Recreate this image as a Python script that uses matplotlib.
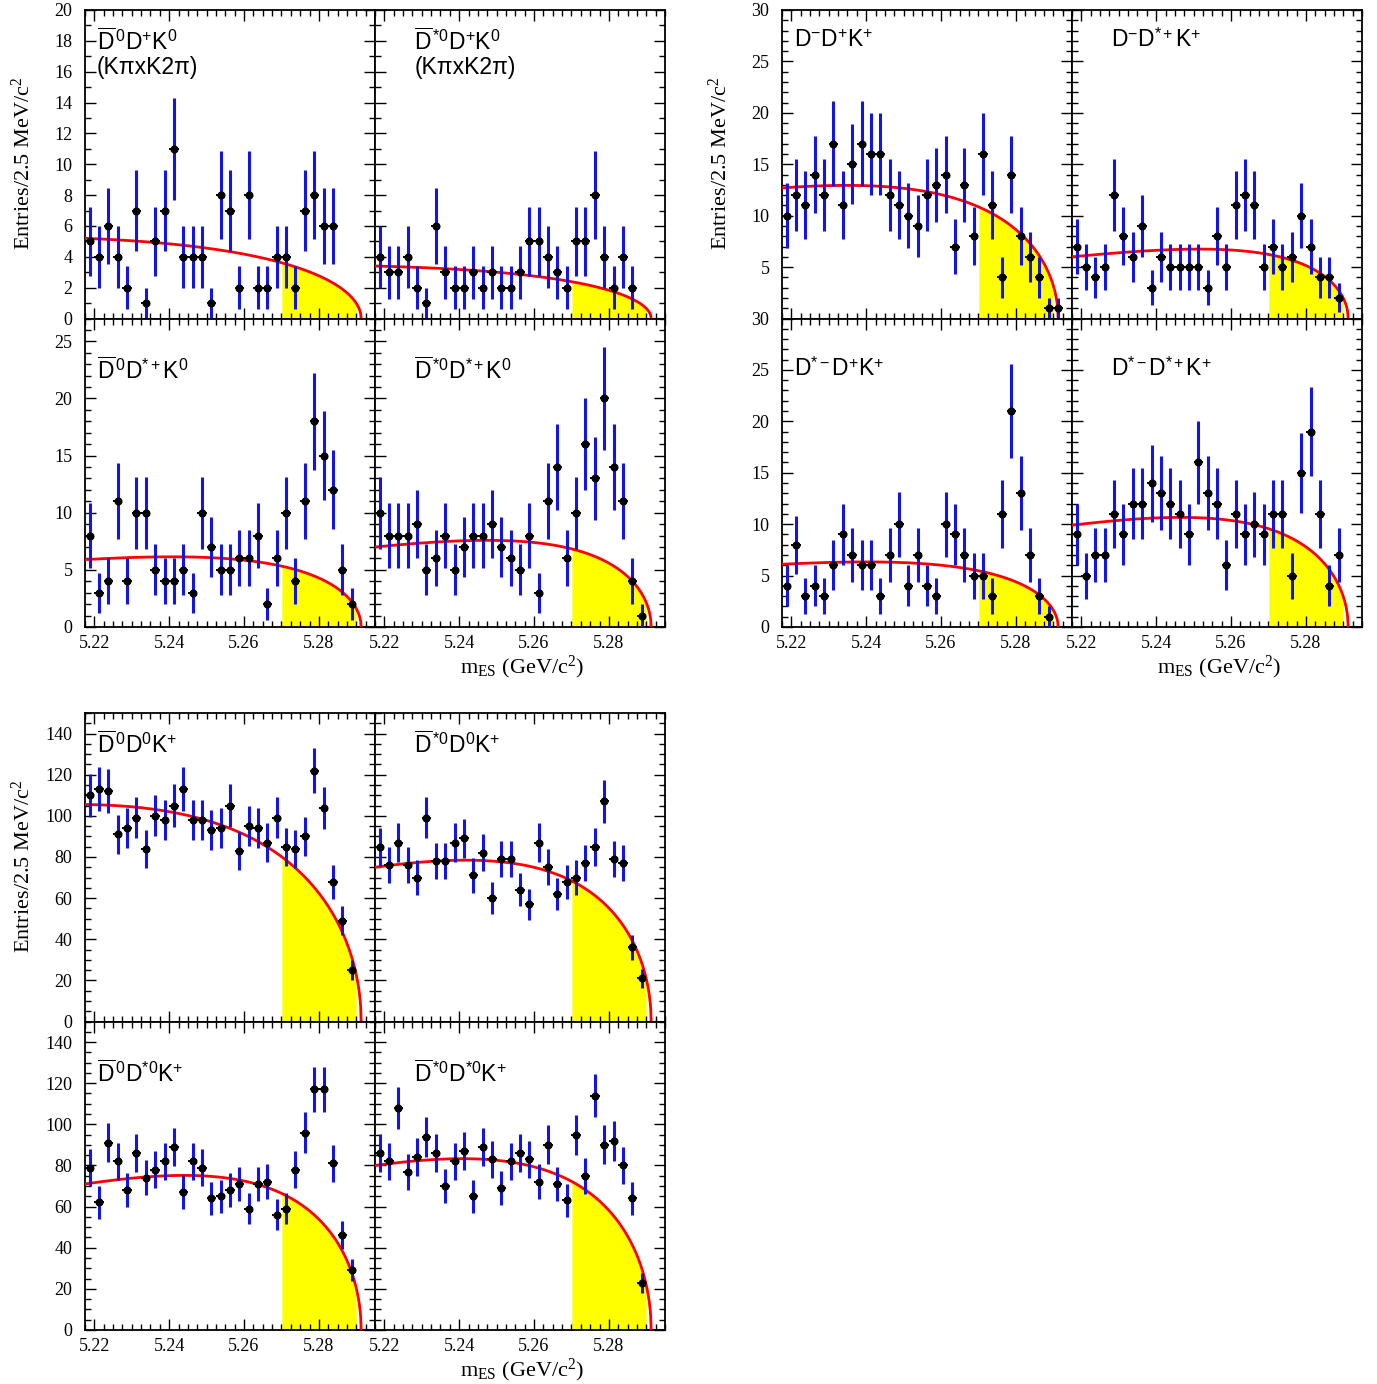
import numpy as np
import matplotlib.pyplot as plt
from matplotlib.ticker import MultipleLocator, FormatStrFormatter, FuncFormatter

plt.rcParams["font.family"] = ["Liberation Serif", "DejaVu Serif"]
plt.rcParams["mathtext.fontset"] = "custom"
plt.rcParams["mathtext.rm"] = "Liberation Serif"
plt.rcParams["mathtext.it"] = "Liberation Serif:italic"
plt.rcParams["mathtext.sf"] = "Liberation Sans"

# mES histogram binning (2.5 MeV bins)
bin_lo = 5.2175
bin_w = 0.0025
n_bins = 31
m0 = 5.2913  # ARGUS endpoint

# entries per bin
d0b_dp_k0 = [5, 4, 6, 4, 2, 7, 1, 5, 7, 11, 4, 4, 4, 1, 8, 7, 2, 8, 2, 2, 4, 4, 2, 7, 8, 6, 6, 0, 0, 0, 0]
d0sb_dp_k0 = [4, 3, 3, 4, 2, 1, 6, 3, 2, 2, 3, 2, 3, 2, 2, 3, 5, 5, 4, 3, 2, 5, 5, 8, 4, 2, 4, 2, 0, 0, 0]
d0b_dsp_k0 = [8, 3, 4, 11, 4, 10, 10, 5, 4, 4, 5, 3, 10, 7, 5, 5, 6, 6, 8, 2, 6, 10, 4, 11, 18, 15, 12, 5, 2, 0, 0]
d0sb_dsp_k0 = [10, 8, 8, 8, 9, 5, 6, 8, 5, 7, 8, 8, 9, 7, 6, 5, 8, 3, 11, 14, 6, 10, 16, 13, 20, 14, 11, 4, 1, 0, 0]
dm_dp_kp = [10, 12, 11, 14, 12, 17, 11, 15, 17, 16, 16, 12, 11, 10, 9, 12, 13, 14, 7, 13, 8, 16, 11, 4, 14, 8, 6, 4, 1, 1, 0]
dm_dsp_kp = [7, 5, 4, 5, 12, 8, 6, 9, 3, 6, 5, 5, 5, 5, 3, 8, 5, 11, 12, 11, 5, 7, 5, 6, 10, 7, 4, 4, 2, 0, 0]
dsm_dp_kp = [4, 8, 3, 4, 3, 6, 9, 7, 6, 6, 3, 7, 10, 4, 7, 4, 3, 10, 9, 7, 5, 5, 3, 11, 21, 13, 7, 3, 1, 0, 0]
dsm_dsp_kp = [9, 5, 7, 7, 11, 9, 12, 12, 14, 13, 12, 11, 9, 16, 13, 12, 6, 11, 9, 10, 9, 11, 11, 5, 15, 19, 11, 4, 7, 0, 0]
d0b_d0_kp = [110, 113, 112, 91, 94, 99, 84, 100, 98, 105, 113, 98, 98, 93, 94, 105, 83, 95, 94, 87, 99, 85, 84, 90, 122, 104, 68, 49, 25, 0, 0]
d0sb_d0_kp = [85, 76, 87, 76, 70, 99, 78, 78, 87, 89, 71, 82, 60, 79, 79, 64, 57, 87, 75, 62, 68, 70, 77, 85, 107, 79, 77, 36, 21, 0, 0]
d0b_ds0_kp = [79, 62, 91, 82, 68, 86, 74, 78, 82, 89, 67, 82, 79, 64, 65, 68, 71, 59, 71, 72, 56, 59, 78, 96, 117, 117, 81, 46, 29, 0, 0]
d0sb_ds0_kp = [86, 82, 108, 77, 84, 94, 86, 70, 82, 87, 65, 89, 83, 69, 82, 86, 83, 72, 90, 71, 63, 95, 75, 114, 90, 92, 80, 64, 23, 0, 0]

# background fit: height at left edge and ARGUS shape parameter
bkg_left = [5.2, 3.4, 5.9, 7.0, 12.7, 6.0, 6.1, 9.9, 105.5, 75.0, 71.0, 80.0]
argus_c = [-12.5, -13.0, -25.8, -29.8, -23.0, -32.9, -25.4, -29.2, -17.0, -26.3, -27.6, -25.8]

labels = [
    r"$\overline{\mathsf{D}}^{\,\mathsf{0}}\mathsf{D}^{\mathsf{+}}\mathsf{K}^{\mathsf{0}}$" + "\n(KπxK2π)",
    r"$\overline{\mathsf{D}}^{\,\mathsf{*0}}\mathsf{D}^{\mathsf{+}}\mathsf{K}^{\mathsf{0}}$" + "\n(KπxK2π)",
    r"$\overline{\mathsf{D}}^{\,\mathsf{0}}\mathsf{D}^{\mathsf{*+}}\mathsf{K}^{\mathsf{0}}$",
    r"$\overline{\mathsf{D}}^{\,\mathsf{*0}}\mathsf{D}^{\mathsf{*+}}\mathsf{K}^{\mathsf{0}}$",
    r"$\mathsf{D}^{\mathsf{-}}\mathsf{D}^{\mathsf{+}}\mathsf{K}^{\mathsf{+}}$",
    r"$\mathsf{D}^{\mathsf{-}}\mathsf{D}^{\mathsf{*+}}\mathsf{K}^{\mathsf{+}}$",
    r"$\mathsf{D}^{\mathsf{*-}}\mathsf{D}^{\mathsf{+}}\mathsf{K}^{\mathsf{+}}$",
    r"$\mathsf{D}^{\mathsf{*-}}\mathsf{D}^{\mathsf{*+}}\mathsf{K}^{\mathsf{+}}$",
    r"$\overline{\mathsf{D}}^{\,\mathsf{0}}\mathsf{D}^{\mathsf{0}}\mathsf{K}^{\mathsf{+}}$",
    r"$\overline{\mathsf{D}}^{\,\mathsf{*0}}\mathsf{D}^{\mathsf{0}}\mathsf{K}^{\mathsf{+}}$",
    r"$\overline{\mathsf{D}}^{\,\mathsf{0}}\mathsf{D}^{\mathsf{*0}}\mathsf{K}^{\mathsf{+}}$",
    r"$\overline{\mathsf{D}}^{\,\mathsf{*0}}\mathsf{D}^{\mathsf{*0}}\mathsf{K}^{\mathsf{+}}$",
]

all_counts = [d0b_dp_k0, d0sb_dp_k0, d0b_dsp_k0, d0sb_dsp_k0,
              dm_dp_kp, dm_dsp_kp, dsm_dp_kp, dsm_dsp_kp,
              d0b_d0_kp, d0sb_d0_kp, d0b_ds0_kp, d0sb_ds0_kp]

W, H = 1377, 1384
fig = plt.figure(figsize=(W / 100, H / 100), dpi=100)

BLUE = "#1414e6"


def argus(m, c):
    z = np.clip(1 - (m / m0) ** 2, 0, None)
    return m * np.sqrt(z) * np.exp(c * z)


def add_panel(x, y, w, h):
    return fig.add_axes([x / W, 1 - (y + h) / H, w / W, h / H])


def draw_panel(ax, i, ymax, major, minor, left, bottom, top_row, right_col, hide_zero):
    counts = np.array(all_counts[i], dtype=float)
    centers = bin_lo + (np.arange(n_bins) + 0.5) * bin_w
    nz = counts > 0

    m = np.linspace(bin_lo, m0, 600)
    curve = bkg_left[i] * argus(m, argus_c[i]) / argus(bin_lo, argus_c[i])
    sel = (m >= 5.27) & (m <= 5.29)
    ax.fill_between(m[sel], 0, curve[sel], color="#ffff00", lw=0, zorder=1)
    ax.plot(np.append(m, m0), np.append(curve, 0), color="#ff0000", lw=2.0, zorder=3)

    ax.errorbar(centers[nz], counts[nz], yerr=np.sqrt(counts[nz]), fmt="none",
                ecolor=BLUE, elinewidth=2.2, capsize=0, zorder=4)
    ax.errorbar(centers[nz], counts[nz], xerr=bin_w / 2, fmt="o", color="k",
                ms=4.8, elinewidth=1.4, capsize=0, zorder=5)
    ax.errorbar(centers[~nz], counts[~nz], xerr=bin_w / 2, fmt="none",
                ecolor=BLUE, elinewidth=1.5, zorder=2)

    ax.set_xlim(bin_lo, bin_lo + n_bins * bin_w)
    ax.set_ylim(0, ymax)
    ax.xaxis.set_major_locator(MultipleLocator(0.02))
    ax.xaxis.set_minor_locator(MultipleLocator(0.0025))
    ax.xaxis.set_major_formatter(FormatStrFormatter("%.2f"))
    ax.yaxis.set_major_locator(MultipleLocator(major))
    ax.yaxis.set_minor_locator(MultipleLocator(minor))
    if hide_zero:
        ax.yaxis.set_major_formatter(FuncFormatter(lambda v, p: "" if v == 0 else f"{v:g}"))
    ax.tick_params(which="both", direction="in", top=True, right=True,
                   labelsize=13, width=1.0)
    ax.tick_params(which="major", length=8)
    ax.tick_params(which="minor", length=4)
    ax.tick_params(axis="y", pad=9)
    ax.tick_params(axis="x", pad=6)
    ax.tick_params(labelleft=left, labelbottom=bottom)
    for s in ax.spines.values():
        s.set_linewidth(1.3)

    tx = 0.04 if not right_col else 0.135
    ty = 0.94 if top_row else 0.875
    ax.text(tx, ty, labels[i], transform=ax.transAxes, ha="left", va="top",
            fontsize=16.5, family="Liberation Sans", linespacing=1.05)


# group layout in pixels: left, top
groups = [
    (85, 10, [0, 1, 2, 3], [(20, 2, 1), (27, 5, 1)], False),
    (782, 10, [4, 5, 6, 7], [(30, 5, 1), (30, 5, 1)], True),
    (85, 713, [8, 9, 10, 11], [(150, 20, 5), (150, 20, 5)], False),
]
pw, ph = 290, 308.5

for gx, gy, idx, yspec, shared_zero in groups:
    for r in range(2):
        for c in range(2):
            ax = add_panel(gx + c * pw, gy + r * ph, pw, ph)
            ymax, major, minor = yspec[r]
            draw_panel(ax, idx[2 * r + c], ymax, major, minor,
                       left=(c == 0), bottom=(r == 1),
                       top_row=(r == 0), right_col=(c == 1),
                       hide_zero=(shared_zero and r == 0))
    fig.text((gx - 62) / W, 1 - (gy + 153) / H, r"Entries/2.5 MeV/c$^{2}$",
             rotation=90, ha="center", va="center", fontsize=16)
    fig.text((gx + 437) / W, 1 - (gy + 657) / H, r"m$_{\rm ES}$ (GeV/c$^{2}$)",
             ha="center", va="center", fontsize=16)

fig.savefig("out.png", dpi=100)
